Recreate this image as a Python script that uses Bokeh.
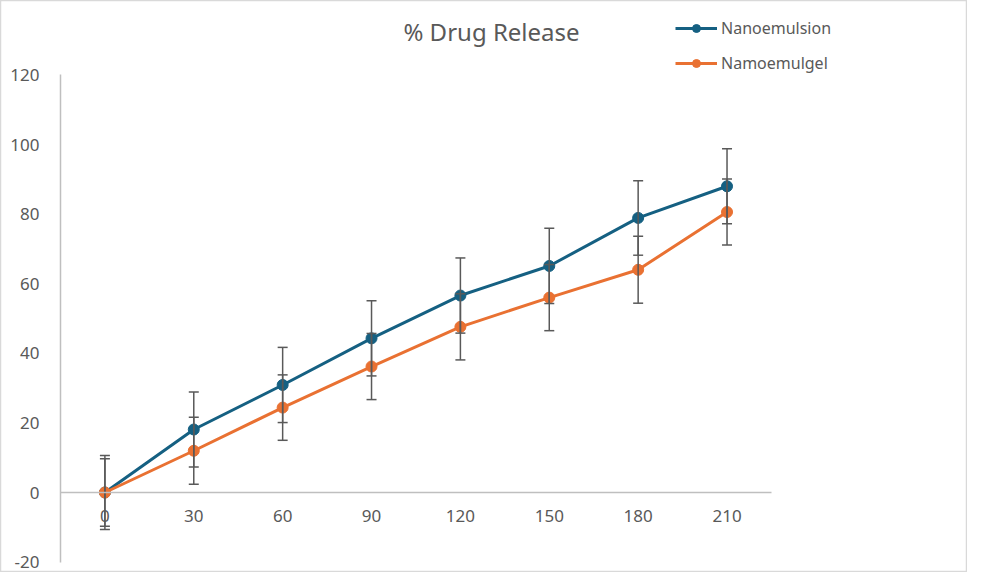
from bokeh.plotting import figure
from bokeh.models import (ColumnDataSource, Whisker, TeeHead, FixedTicker, Legend,
                          LegendItem, Label)
from bokeh.embed import file_html
from bokeh.resources import INLINE

# ---- data ----
time_min = [0, 30, 60, 90, 120, 150, 180, 210]
nanoemulsion = [0, 18.1, 30.9, 44.3, 56.6, 65.1, 78.9, 88.0]
nanoemulsion_err = [10.6, 10.8, 10.8, 10.8, 10.8, 10.8, 10.7, 10.8]
namoemulgel = [0, 12.0, 24.4, 36.2, 47.6, 56.0, 64.0, 80.6]
namoemulgel_err = [9.7, 9.6, 9.4, 9.5, 9.5, 9.5, 9.6, 9.5]
y_ticks = [-20, 0, 20, 40, 60, 80, 100, 120]
y_tick_labels = ["-20", "0", "20", "40", "60", "80", "100", "120"]
title_text = "% Drug Release"
series_names = ["Nanoemulsion", "Namoemulgel"]

BLUE = "#156082"
ORANGE = "#E97132"
GRAY_TXT = "#595959"
AXIS_GRAY = "#bfbfbf"
FONT = "Noto Sans"

W, H = 967, 572
# pixel mapping of the plotting area (frame covers the whole figure)
x0_px, x_scale = 104.4, 2.9625
y0_px, y_scale = 492.0, 3.48
x_range = (-x0_px / x_scale, (W - x0_px) / x_scale)
y_range = ((y0_px - H) / y_scale, y0_px / y_scale)

p = figure(width=W, height=H, output_backend="svg", toolbar_location=None,
           x_range=x_range, y_range=y_range,
           min_border_left=0, min_border_right=0, min_border_top=0,
           min_border_bottom=0)
p.title.visible = False
p.outline_line_color = "#d9d9d9"
p.outline_line_width = 1.5
p.xgrid.visible = False
p.ygrid.visible = False
p.background_fill_color = "white"
p.border_fill_color = "white"

# axes (drawn inside the frame)
xa = p.xaxis[0]
xa.ticker = FixedTicker(ticks=time_min)
xa.fixed_location = 0
xa.bounds = (-15, 225)
xa.axis_line_color = AXIS_GRAY
xa.axis_line_width = 1.5
xa.major_tick_line_color = None
xa.minor_tick_line_color = None
xa.major_label_standoff = 11
xa.major_label_text_font = FONT
xa.major_label_text_font_size = "17px"
xa.major_label_text_color = GRAY_TXT

ya = p.yaxis[0]
ya.ticker = FixedTicker(ticks=y_ticks)
ya.major_label_overrides = {t: s for t, s in zip(y_ticks, y_tick_labels)}
ya.fixed_location = -15
ya.bounds = (-20, 120)
ya.axis_line_color = AXIS_GRAY
ya.axis_line_width = 1.5
ya.major_tick_line_color = None
ya.minor_tick_line_color = None
ya.major_label_standoff = 15
ya.major_label_text_font = FONT
ya.major_label_text_font_size = "17px"
ya.major_label_text_color = GRAY_TXT

# sources
src_a = ColumnDataSource(dict(x=time_min, y=nanoemulsion,
                              lo=[v - e for v, e in zip(nanoemulsion, nanoemulsion_err)],
                              hi=[v + e for v, e in zip(nanoemulsion, nanoemulsion_err)]))
src_b = ColumnDataSource(dict(x=time_min, y=namoemulgel,
                              lo=[v - e for v, e in zip(namoemulgel, namoemulgel_err)],
                              hi=[v + e for v, e in zip(namoemulgel, namoemulgel_err)]))

for src in (src_a, src_b):
    w = Whisker(source=src, base="x", lower="lo", upper="hi",
                line_color=GRAY_TXT, line_width=1.5, level="glyph",
                upper_head=TeeHead(size=10, line_color=GRAY_TXT, line_width=1.5),
                lower_head=TeeHead(size=10, line_color=GRAY_TXT, line_width=1.5))
    p.add_layout(w)

la = p.line("x", "y", source=src_a, line_color=BLUE, line_width=3)
sa = p.scatter("x", "y", source=src_a, size=11, marker="circle",
               fill_color=BLUE, line_color=BLUE)
lb = p.line("x", "y", source=src_b, line_color=ORANGE, line_width=3)
sb = p.scatter("x", "y", source=src_b, size=11, marker="circle",
               fill_color=ORANGE, line_color=ORANGE)

legend = Legend(items=[LegendItem(label=series_names[0], renderers=[la, sa]),
                       LegendItem(label=series_names[1], renderers=[lb, sb])],
                location=(675, 498), orientation="vertical",
                glyph_width=42, glyph_height=20, label_height=20, spacing=13,
                label_standoff=4, padding=0, margin=0,
                border_line_color=None, background_fill_alpha=0,
                label_text_font=FONT, label_text_font_size="16px",
                label_text_color=GRAY_TXT)
p.add_layout(legend)

title = Label(x=(491 - x0_px) / x_scale, y=(y0_px - 31) / y_scale, text=title_text,
              text_align="center", text_baseline="middle", text_font=FONT,
              text_font_size="24px", text_color=GRAY_TXT)
p.add_layout(title)

open("out.html", "w").write(file_html(p, INLINE))
